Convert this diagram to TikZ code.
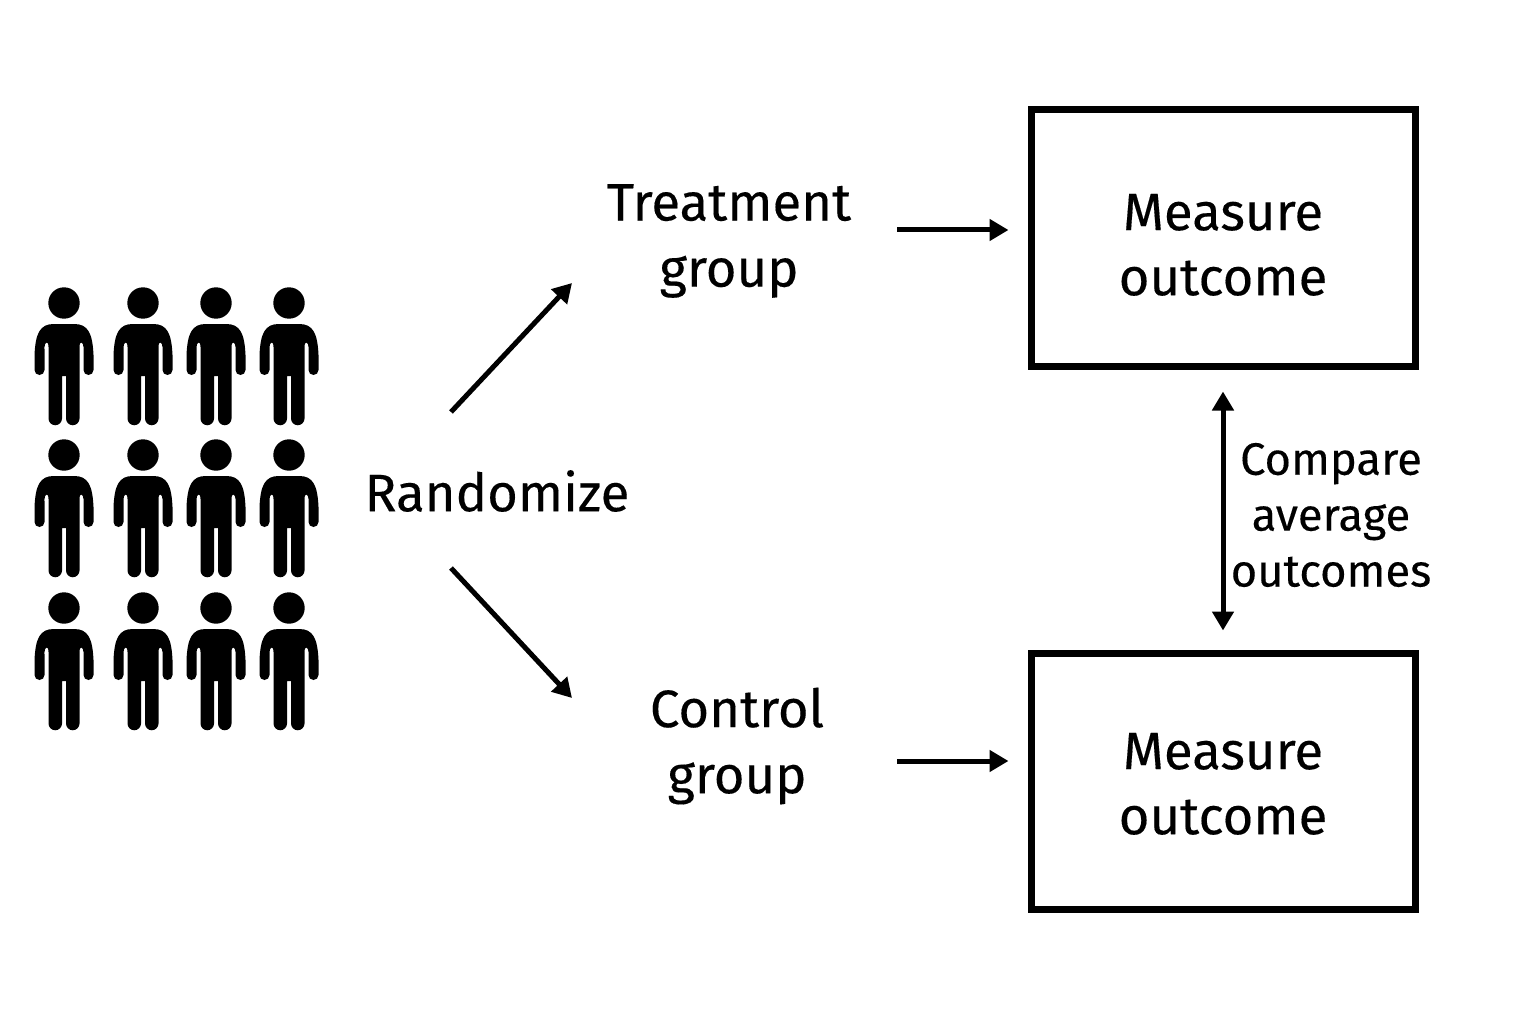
\documentclass[tikz,border=0pt]{standalone}
\usepackage{fontspec}
\setmainfont[FakeBold=0.25]{Fira Sans}
\usetikzlibrary{arrows.meta}
\newcommand{\topgap}{\rule{0pt}{0.5cm}}
\tikzset{%
  >={Triangle[width=2.1mm,length=1.9mm]},
  % Specifications for style of nodes:
     base/.style = {align=center, inner sep=0pt, font=\fontsize{15}{18.8}\selectfont},
   bigbox/.style = {base, rectangle, draw=black, line width=0.7mm,
                    font=\fontsize{15}{18.5}\selectfont,
                    minimum width=3.84cm, minimum height=2.56cm},
   linkto/.style = {->, line width=0.5mm},
   person/.pic = {
     \fill (0,0) circle (0.157);
     \fill (-0.10,-0.21) .. controls (-0.24,-0.21) and (-0.285,-0.30) .. (-0.295,-0.52)
       -- (-0.295,-0.67) arc (180:360:0.05)
       -- (-0.195,-0.44) .. controls (-0.195,-0.39) and (-0.155,-0.37) .. (-0.155,-0.44)
       -- (-0.155,-1.155) arc (180:360:0.0675)
       -- (-0.02,-0.73) -- (0.02,-0.73) -- (0.02,-1.155) arc (180:360:0.0675)
       -- (0.155,-0.44) .. controls (0.155,-0.37) and (0.195,-0.39) .. (0.195,-0.44)
       -- (0.195,-0.67) arc (180:360:0.05)
       -- (0.295,-0.52) .. controls (0.285,-0.30) and (0.24,-0.21) .. (0.10,-0.21) -- cycle;
   },
}
\begin{document}
\begin{tikzpicture}
  \useasboundingbox (0,0) rectangle (15.36,10.24);
  % The crowd of people
  \foreach \py [count=\r] in {7.21,5.69,4.16}
    \foreach \px [count=\c] in {0.64,1.43,2.16,2.89}
      \pic (man\r\c) at (\px,\py) {person};
  % Specification of nodes (position, etc.)
  \node (onRand)  [base] at (4.97,5.33)       {Randomize};
  \node (onTreat) [base] at (7.29,7.83)       {Treatment\\group};
  \node (onCtrl)  [base] at (7.37,2.78)       {Control\\group};
  \node (onTop)   [bigbox] at (12.23,7.86)    {\topgap Measure\\outcome};
  \node (onBot)   [bigbox] at (12.23,2.43)    {\rule{0pt}{0.42cm}Measure\\outcome};
  \node (onComp)  [base, font=\fontsize{12.9}{15.9}\selectfont] at (13.31,5.09)
     {Compare\\average\\outcomes};
  \coordinate (upFrom)    at (4.51,6.12);
  \coordinate (upTo)      at (5.72,7.41);
  \coordinate (downFrom)  at (4.51,4.56);
  \coordinate (downTo)    at (5.72,3.26);
  \coordinate (treatOut)  at (8.97,7.94);
  \coordinate (ctrlOut)   at (8.97,2.63);
  \draw[linkto] (upFrom) -- (upTo);
  \draw[linkto] (downFrom) -- (downTo);
  \draw[linkto, shorten >=1.9mm] (treatOut) -- (treatOut -| onTop.west);
  \draw[linkto, shorten >=1.9mm] (ctrlOut) -- (ctrlOut -| onBot.west);
  \draw[linkto, <->, shorten <=2.2mm, shorten >=1.9mm] (onTop.south) -- (onBot.north);
\end{tikzpicture}
\end{document}
